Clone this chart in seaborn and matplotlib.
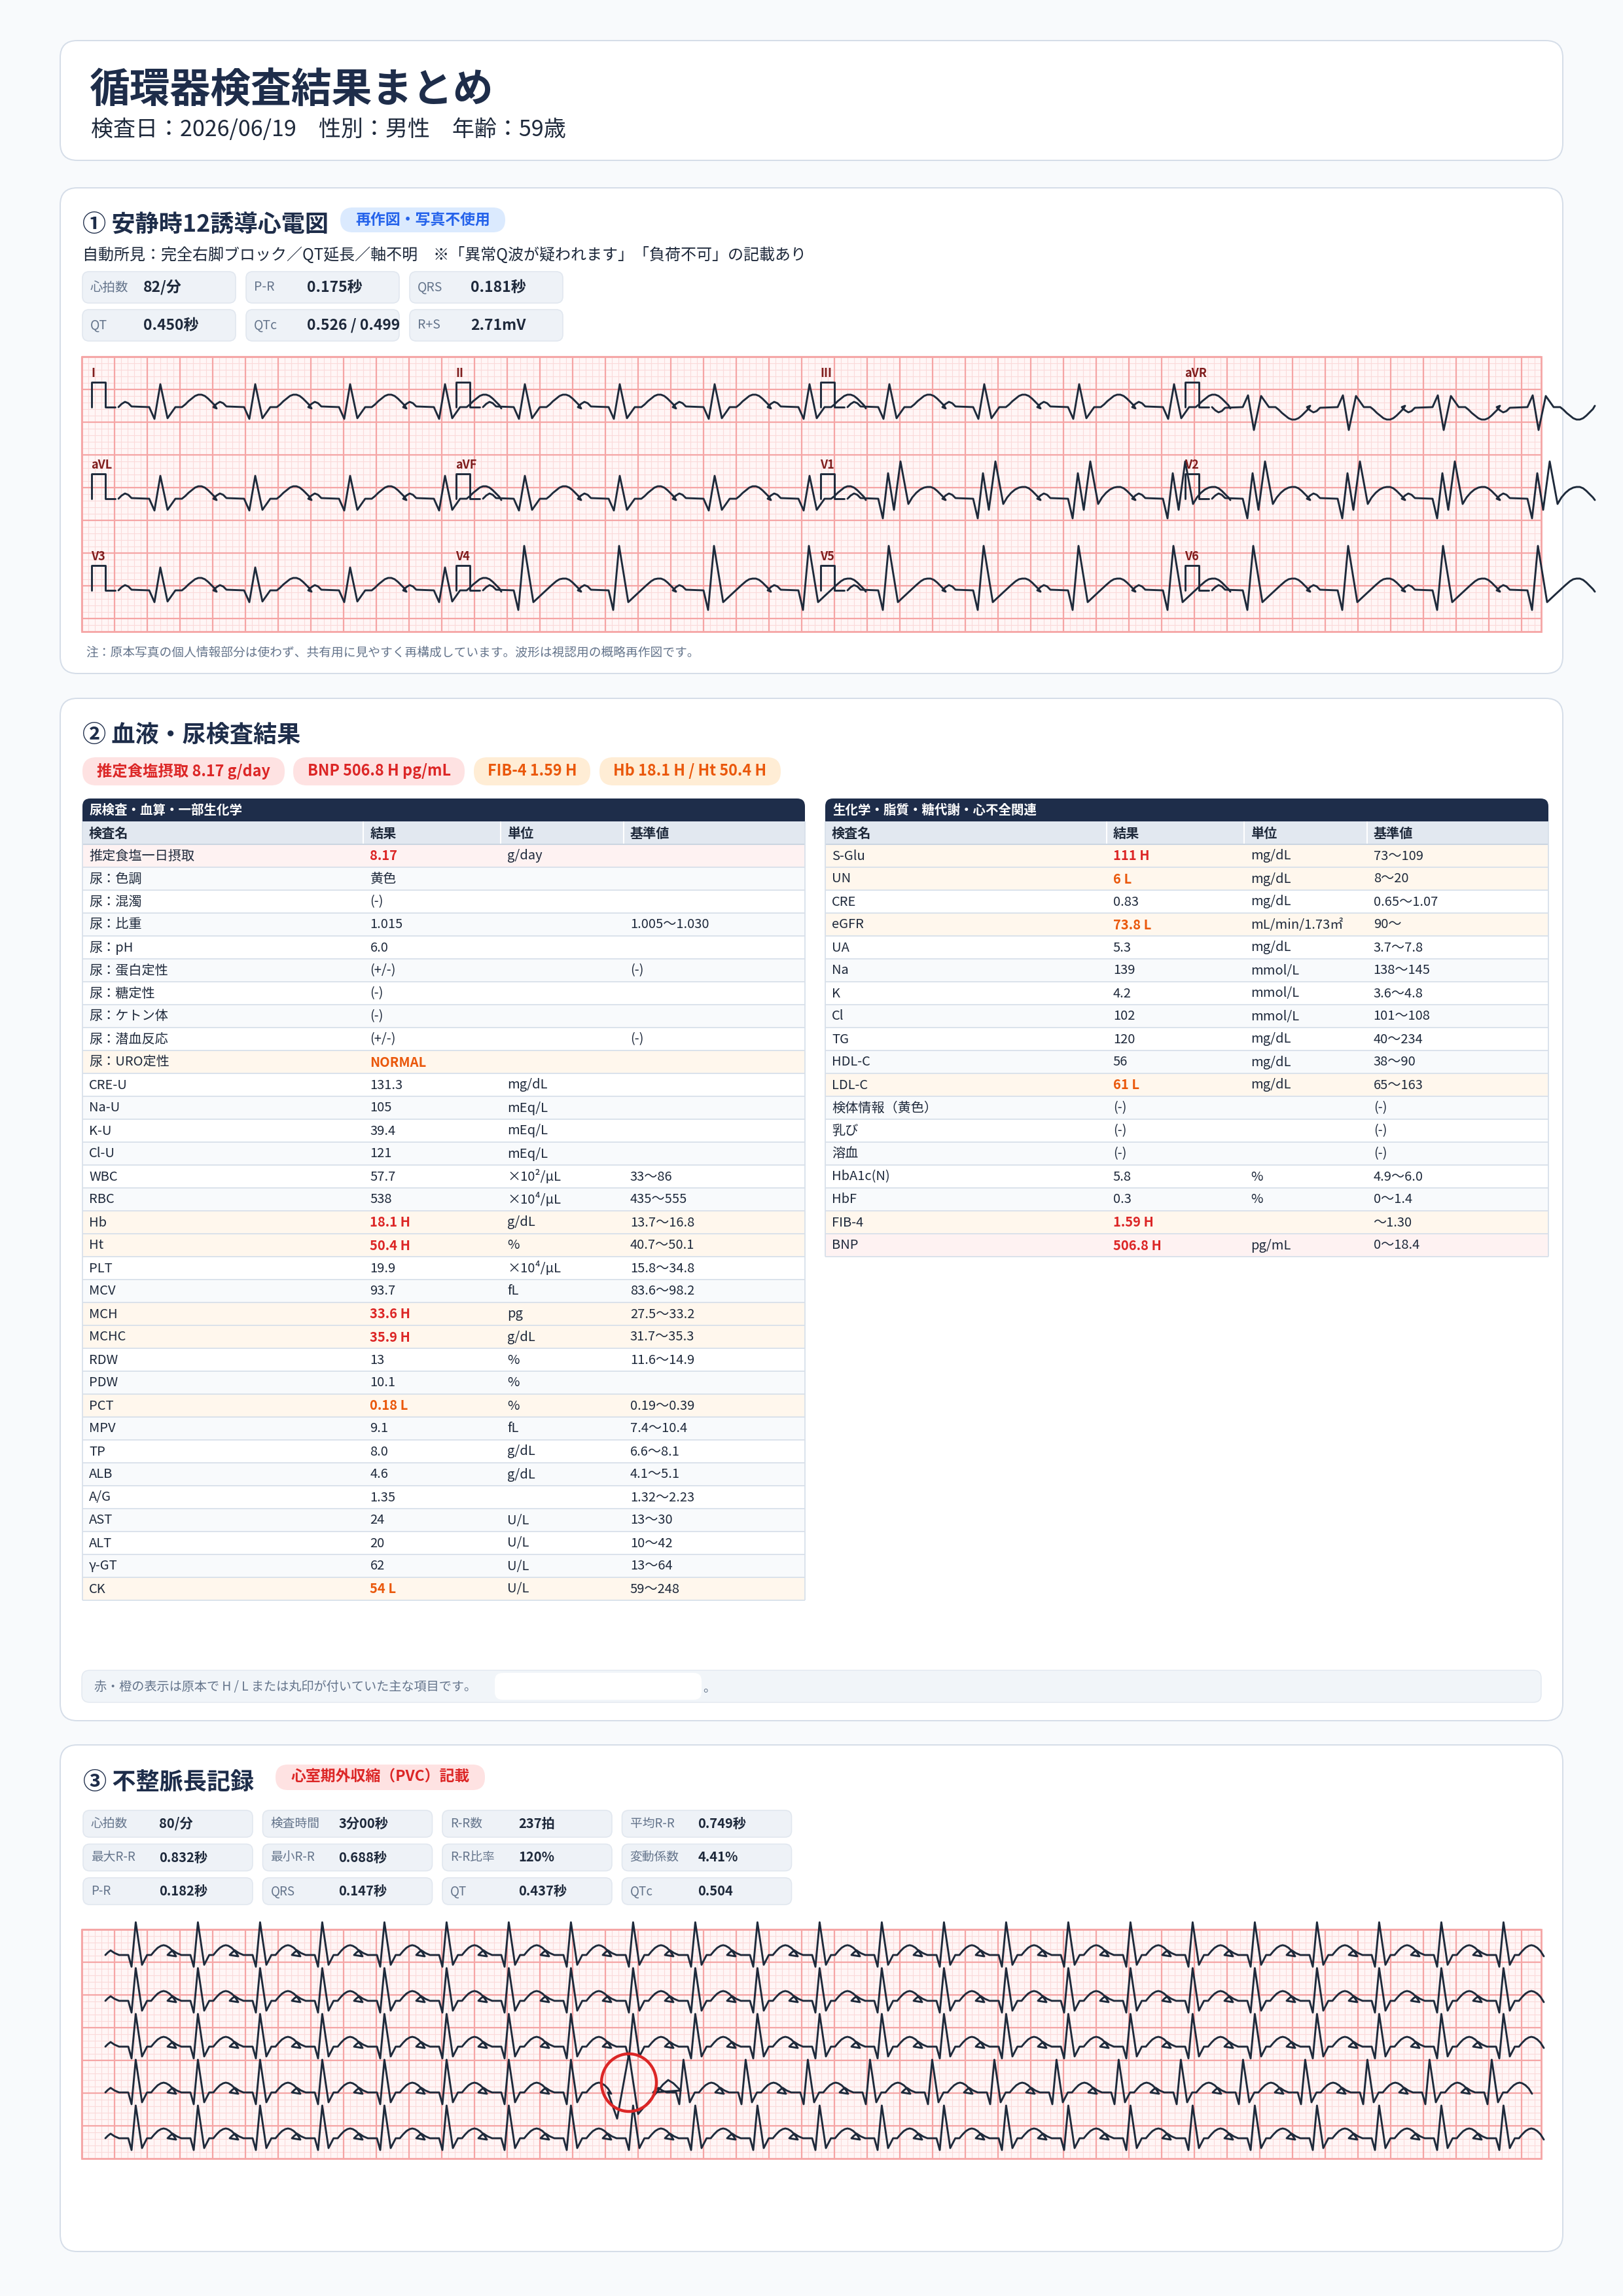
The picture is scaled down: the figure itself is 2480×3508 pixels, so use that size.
import numpy as np
import pandas as pd
import matplotlib
matplotlib.use("Agg")
import matplotlib.pyplot as plt
from matplotlib.patches import FancyBboxPatch, Rectangle, Ellipse
import seaborn as sns

sns.set_theme(style="white")
plt.rcParams['font.family'] = ['Noto Sans CJK JP', 'DejaVu Sans']

# ---- データ ----
TITLE = "循環器検査結果まとめ"
SUBTITLE = "検査日：2026/06/19　性別：男性　年齢：59歳"

ecg_heading = "① 安静時12誘導心電図"
ecg_badge = "再作図・写真不使用"
ecg_finding = "自動所見：完全右脚ブロック／QT延長／軸不明　※「異常Q波が疑われます」「負荷不可」の記載あり"
ecg_stat_labels = ["心拍数", "P-R", "QRS", "QT", "QTc", "R+S"]
ecg_stat_values = ["82/分", "0.175秒", "0.181秒", "0.450秒", "0.526 / 0.499", "2.71mV"]
ecg_note = "注：原本写真の個人情報部分は使わず、共有用に見やすく再構成しています。波形は視認用の概略再作図です。"

lead_names = ["I", "II", "III", "aVR", "aVL", "aVF", "V1", "V2", "V3", "V4", "V5", "V6"]
lead_shapes = ["normal", "normal", "normal", "avr", "normal", "normal",
               "rsr", "rsr", "normal", "tall", "tall", "tall"]
ecg_rr = 145          # 1拍の間隔(px)
ecg_beats = 4         # 1誘導あたりの拍数

# 1拍の波形 (QRS開始からの時間, 基線からの振幅)
normal_t = [-47, -42, -37, -32, -27, 0, 8, 17, 28, 40, 50, 55, 60, 65, 70, 75, 80, 85, 90, 95, 100, 103]
normal_v = [0, 5, 8, 6, 1, 0, -18, 35, -17, 0, 0, 4, 9, 13, 17, 19, 19, 17, 13, 8, 3, -2]
rsr_t = [-47, -42, -37, -32, -27, 0, 7, 15, 24, 34, 46, 52, 58, 64, 70, 75, 80, 85, 90, 95, 100, 103]
rsr_v = [0, 5, 8, 6, 1, 0, -30, 39, -17, 57, -8, 2, 9, 14, 17, 18, 18, 16, 12, 7, 2, -2]
tall_t = [-47, -42, -37, -32, -27, 0, 7, 16, 30, 45, 58, 65, 70, 75, 80, 85, 90, 95, 100, 103]
tall_v = [0, 5, 8, 6, 1, 0, -30, 68, -18, -4, 8, 14, 17, 18, 18, 16, 12, 7, 2, -2]

bd_heading = "② 血液・尿検査結果"
pill_texts = ["推定食塩摂取 8.17 g/day", "BNP 506.8 H pg/mL", "FIB-4 1.59 H", "Hb 18.1 H / Ht 50.4 H"]
pill_kinds = ["red", "red", "orange", "orange"]

table_cols = ["検査名", "結果", "単位", "基準値"]

t1_title = "尿検査・血算・一部生化学"
t1_names = ["推定食塩一日摂取", "尿：色調", "尿：混濁", "尿：比重", "尿：pH", "尿：蛋白定性", "尿：糖定性",
            "尿：ケトン体", "尿：潜血反応", "尿：URO定性", "CRE-U", "Na-U", "K-U", "Cl-U", "WBC", "RBC",
            "Hb", "Ht", "PLT", "MCV", "MCH", "MCHC", "RDW", "PDW", "PCT", "MPV", "TP", "ALB", "A/G",
            "AST", "ALT", "γ-GT", "CK"]
t1_results = ["8.17", "黄色", "(-)", "1.015", "6.0", "(+/-)", "(-)", "(-)", "(+/-)", "NORMAL", "131.3",
              "105", "39.4", "121", "57.7", "538", "18.1 H", "50.4 H", "19.9", "93.7", "33.6 H", "35.9 H",
              "13", "10.1", "0.18 L", "9.1", "8.0", "4.6", "1.35", "24", "20", "62", "54 L"]
t1_units = ["g/day", "", "", "", "", "", "", "", "", "", "mg/dL", "mEq/L", "mEq/L", "mEq/L", "×10²/μL",
            "×10⁴/μL", "g/dL", "%", "×10⁴/μL", "fL", "pg", "g/dL", "%", "%", "%", "fL", "g/dL", "g/dL",
            "", "U/L", "U/L", "U/L", "U/L"]
t1_refs = ["", "", "", "1.005〜1.030", "", "(-)", "", "", "(-)", "", "", "", "", "", "33〜86", "435〜555",
           "13.7〜16.8", "40.7〜50.1", "15.8〜34.8", "83.6〜98.2", "27.5〜33.2", "31.7〜35.3", "11.6〜14.9",
           "", "0.19〜0.39", "7.4〜10.4", "6.6〜8.1", "4.1〜5.1", "1.32〜2.23", "13〜30", "10〜42",
           "13〜64", "59〜248"]
t1_flags = ["P", "", "", "", "", "", "", "", "", "L", "", "", "", "", "", "", "H", "H", "", "", "H", "H",
            "", "", "L", "", "", "", "", "", "", "", "L"]

t2_title = "生化学・脂質・糖代謝・心不全関連"
t2_names = ["S-Glu", "UN", "CRE", "eGFR", "UA", "Na", "K", "Cl", "TG", "HDL-C", "LDL-C", "検体情報（黄色）",
            "乳び", "溶血", "HbA1c(N)", "HbF", "FIB-4", "BNP"]
t2_results = ["111 H", "6 L", "0.83", "73.8 L", "5.3", "139", "4.2", "102", "120", "56", "61 L", "(-)",
              "(-)", "(-)", "5.8", "0.3", "1.59 H", "506.8 H"]
t2_units = ["mg/dL", "mg/dL", "mg/dL", "mL/min/1.73㎡", "mg/dL", "mmol/L", "mmol/L", "mmol/L", "mg/dL",
            "mg/dL", "mg/dL", "", "", "", "%", "%", "", "pg/mL"]
t2_refs = ["73〜109", "8〜20", "0.65〜1.07", "90〜", "3.7〜7.8", "138〜145", "3.6〜4.8", "101〜108", "40〜234",
           "38〜90", "65〜163", "(-)", "(-)", "(-)", "4.9〜6.0", "0〜1.4", "〜1.30", "0〜18.4"]
t2_flags = ["H", "L", "", "L", "", "", "", "", "", "", "L", "", "", "", "", "", "H", "P"]

bd_note = "赤・橙の表示は原本で H / L または丸印が付いていた主な項目です。"

rh_heading = "③ 不整脈長記録"
rh_badge = "心室期外収縮（PVC）記載"
rh_stat_labels = ["心拍数", "検査時間", "R-R数", "平均R-R", "最大R-R", "最小R-R", "R-R比率", "変動係数",
                  "P-R", "QRS", "QT", "QTc"]
rh_stat_values = ["80/分", "3分00秒", "237拍", "0.749秒", "0.832秒", "0.688秒", "120%", "4.41%",
                  "0.182秒", "0.147秒", "0.437秒", "0.504"]
rh_rr = 95
rh_beats_per_row = 23
rh_pvc_row = 3
rh_pvc_after = 8       # PVC直前までの正常拍数
rh_pvc_resume = 172    # PVC前の拍から次の正常拍までの間隔
rh_t = [-35, -31, -27, -21, -14, 0, 5, 11.4, 21, 28.7, 35, 40, 45, 50, 54, 58, 63, 68, 73]
rh_v = [0, 4, 7, 3, 0, 0, -18, 50, -15, 0, 0, 6, 11, 14, 15, 14, 11, 6, -2]
pvc_t = [68, 82, 100, 114, 144, 152, 160, 168, 179]
pvc_v = [0, -40, 59, -33, 2, 12, 19, 14, 3]

# ---- 色 ----
NAVY = "#1e2d4a"
INK = "#1e293b"
GRAY = "#64748b"
RED = "#dc2626"
ORANGE = "#ea580c"
BG = "#f8fafc"
CARD_EC = "#d5dde8"
BOX_BG = "#eef2f7"

fig = plt.figure(figsize=(24.8, 35.08), dpi=100)
fig.patch.set_facecolor(BG)
ax = fig.add_axes([0, 0, 1, 1])
ax.set_facecolor(BG)


def rbox(x0, y0, x1, y1, fc, ec="none", lw=0.0, r=12, z=1):
    ax.add_patch(FancyBboxPatch((x0, y0), x1 - x0, y1 - y0,
                                boxstyle=f"round,pad=0,rounding_size={r}",
                                fc=fc, ec=ec, lw=lw, zorder=z))


def txt(x, y, s, size, color=INK, weight="normal", ha="left", z=5):
    ax.text(x, y, s, fontsize=size, color=color, fontweight=weight, ha=ha, va="center", zorder=z)


def ecg_grid(x0, y0, x1, y1):
    ax.add_patch(Rectangle((x0, y0), x1 - x0, y1 - y0, fc="#fff6f6", ec="none", zorder=2))
    ax.vlines(np.arange(x0, x1, 10), y0, y1, colors="#fbdada", lw=0.8, zorder=2.1)
    ax.hlines(np.arange(y0, y1, 10), x0, x1, colors="#fbdada", lw=0.8, zorder=2.1)
    ax.vlines(np.arange(x0, x1, 50), y0, y1, colors="#f5a5a5", lw=1.6, zorder=2.2)
    ax.hlines(np.arange(y0, y1, 50), x0, x1, colors="#f5a5a5", lw=1.6, zorder=2.2)
    ax.add_patch(Rectangle((x0, y0), x1 - x0, y1 - y0, fc="none", ec="#f5a5a5", lw=2.0, zorder=2.3))


def stat_box(x, y, w, h, label, value, lsize, vsize, voff):
    rbox(x, y, x + w, y + h, BOX_BG, "#e1e7ef", 1.2, r=10, z=2)
    txt(x + 12, y + h / 2, label, lsize, GRAY)
    txt(x + voff, y + h / 2, value, vsize, INK, "bold")


# ---- ヘッダー ----
rbox(92, 62, 2388, 245, "white", CARD_EC, 1.4, r=26)
txt(136, 138, TITLE, 44.5, NAVY, "bold")
txt(139, 198, SUBTITLE, 24.5, INK)

# ---- ① 12誘導心電図 ----
rbox(92, 287, 2388, 1029, "white", CARD_EC, 1.4, r=26)
txt(126, 343, ecg_heading, 26, NAVY, "bold")
rbox(520, 317, 772, 355, "#dbeafe", r=19, z=2)
txt(646, 336, ecg_badge, 16.5, "#2563eb", "bold", ha="center")
txt(126, 390, ecg_finding, 17.3, INK)
for i, (lab, val) in enumerate(zip(ecg_stat_labels, ecg_stat_values)):
    stat_box(126 + 250 * (i % 3), 415 + 58 * (i // 3), 234, 48, lab, val, 14, 16.5, 93)

ECG_X0, ECG_Y0, ECG_X1, ECG_Y1 = 125, 545, 2355, 965
ecg_grid(ECG_X0, ECG_Y0, ECG_X1, ECG_Y1)
templates = {"normal": (normal_t, normal_v), "rsr": (rsr_t, rsr_v), "tall": (tall_t, tall_v),
             "avr": (normal_t, [-v for v in normal_v])}
frames = []
for idx, (lead, shape) in enumerate(zip(lead_names, lead_shapes)):
    r, c = divmod(idx, 4)
    base = ECG_Y0 + 77 + 140 * r
    col_x = 140 + 557 * c
    tt, vv = templates[shape]
    xs, ys = [], []
    for k in range(ecg_beats):
        onset = col_x + 88 + k * ecg_rr
        xs += [onset + t for t in tt]
        ys += [base - v for v in vv]
    frames.append(pd.DataFrame({"x": xs, "y": ys, "seg": f"lead_{lead}"}))
    frames.append(pd.DataFrame({"x": [col_x, col_x, col_x + 21, col_x + 21, col_x + 36],
                                "y": [base, base - 38, base - 38, base, base], "seg": f"cal_{lead}"}))
    ax.text(col_x - 1, base - 52, lead, fontsize=13, color="#7f1d1d", fontweight="bold",
            ha="left", va="center", zorder=6)
ecg_df = pd.concat(frames, ignore_index=True)
sns.lineplot(data=ecg_df, x="x", y="y", units="seg", estimator=None, sort=False,
             color="#1e2a3b", lw=2.1, ax=ax, legend=False, zorder=5)
txt(131, 997, ecg_note, 13.5, GRAY)

# ---- ② 血液・尿検査 ----
rbox(92, 1067, 2388, 2629, "white", CARD_EC, 1.4, r=26)
txt(126, 1123, bd_heading, 26, NAVY, "bold")
pill_x = [(126, 435), (448, 710), (724, 902), (916, 1193)]
pill_style = {"red": ("#fee2e2", RED), "orange": ("#ffedd5", ORANGE)}
for (x0, x1), s, kind in zip(pill_x, pill_texts, pill_kinds):
    fc, tc = pill_style[kind]
    rbox(x0, 1157, x1, 1200, fc, r=21, z=2)
    txt((x0 + x1) / 2, 1178, s, 16.8, tc, "bold", ha="center")


def draw_table(x0, x1, title, names, results, units, refs, flags):
    y = 1220
    w = x1 - x0
    seps = [x0, x0 + 0.389 * w, x0 + 0.579 * w, x0 + 0.749 * w]
    rbox(x0, y, x1, y + 45, NAVY, r=12, z=2)
    txt(x0 + 11, y + 18, title, 14, "white", "bold")
    y += 35
    ax.add_patch(Rectangle((x0, y), w, 35, fc="#e2e8f0", ec="none", zorder=2.5))
    for sx in seps[1:]:
        ax.vlines(sx, y, y + 35, colors="white", lw=1.5, zorder=2.6)
    for sx, head in zip(seps, table_cols):
        txt(sx + 10, y + 18, head, 14.5, INK, "bold")
    y += 35
    ax.hlines(y, x0, x1, colors="#cbd5e1", lw=1.5, zorder=2.7)
    for i, (n, res, u, ref, f) in enumerate(zip(names, results, units, refs, flags)):
        if f == "P":
            fc, vc, wt = "#fef2f2", RED, "bold"
        elif f == "H":
            fc, vc, wt = "#fff7ed", RED, "bold"
        elif f == "L":
            fc, vc, wt = "#fff7ed", ORANGE, "bold"
        else:
            fc, vc, wt = ("#f8fafc" if i % 2 else "white"), INK, "normal"
        ax.add_patch(Rectangle((x0, y), w, 35, fc=fc, ec="none", zorder=2.5))
        ax.hlines(y + 35, x0, x1, colors="#d8e0ea", lw=1.3, zorder=2.7)
        txt(seps[0] + 10, y + 18, n, 14.5, INK)
        txt(seps[1] + 10, y + 18, res, 14.5, vc, wt)
        txt(seps[2] + 10, y + 18, u, 14.5, INK)
        txt(seps[3] + 10, y + 18, ref, 14.5, INK)
        y += 35
    ax.vlines([x0, x1], 1255, y, colors="#d8e0ea", lw=1.3, zorder=2.7)


draw_table(126, 1230, t1_title, t1_names, t1_results, t1_units, t1_refs, t1_flags)
draw_table(1261, 2366, t2_title, t2_names, t2_results, t2_units, t2_refs, t2_flags)

rbox(125, 2552, 2355, 2601, "#f1f5f9", "#e2e8f0", 1.0, r=12, z=2)
txt(144, 2577, bd_note, 13.8, GRAY)
rbox(756, 2556, 1072, 2597, "white", r=12, z=6)
txt(1074, 2580, "。", 13.8, GRAY)

# ---- ③ 不整脈長記録 ----
rbox(92, 2666, 2388, 3440, "white", CARD_EC, 1.4, r=26)
txt(127, 2723, rh_heading, 26, NAVY, "bold")
rbox(421, 2696, 741, 2735, "#fee2e2", r=19, z=2)
txt(581, 2715, rh_badge, 16.5, RED, "bold", ha="center")
for i, (lab, val) in enumerate(zip(rh_stat_labels, rh_stat_values)):
    stat_box(127 + 274.5 * (i % 4), 2766 + 51.5 * (i // 4), 259, 41, lab, val, 13.5, 14.5, 116)

RH_X0, RH_Y0, RH_X1, RH_Y1 = 125, 2948, 2355, 3298
ecg_grid(RH_X0, RH_Y0, RH_X1, RH_Y1)
frames = []
for r in range(5):
    base = RH_Y0 + 39 + 70 * r
    onset0 = 196
    if r == rh_pvc_row:
        onsets = [onset0 + k * rh_rr for k in range(rh_pvc_after)]
        last = onsets[-1]
        resume = last + rh_pvc_resume
        onsets_after = [resume + k * rh_rr for k in range(rh_beats_per_row - rh_pvc_after - 1)]
    else:
        onsets = [onset0 + k * rh_rr for k in range(rh_beats_per_row)]
        onsets_after = []
    xs, ys = [], []
    for on in onsets:
        xs += [on + t for t in rh_t]
        ys += [base - v for v in rh_v]
    if r == rh_pvc_row:
        xs += [last + t for t in pvc_t]
        ys += [base - v for v in pvc_v]
        for on in onsets_after:
            xs += [on + t for t in rh_t]
            ys += [base - v for v in rh_v]
        pvc_center = (last + 100, base - 15)
    frames.append(pd.DataFrame({"x": xs, "y": ys, "seg": f"row{r}"}))
rh_df = pd.concat(frames, ignore_index=True)
sns.lineplot(data=rh_df, x="x", y="y", units="seg", estimator=None, sort=False,
             color="#1e2a3b", lw=2.1, ax=ax, legend=False, zorder=5)
ax.add_patch(Ellipse(pvc_center, 84, 88, fc="none", ec=RED, lw=3.2, zorder=7))

ax.set_xlim(0, 2480)
ax.set_ylim(3508, 0)
ax.axis("off")
fig.savefig("out.png", dpi=100, facecolor=BG)
